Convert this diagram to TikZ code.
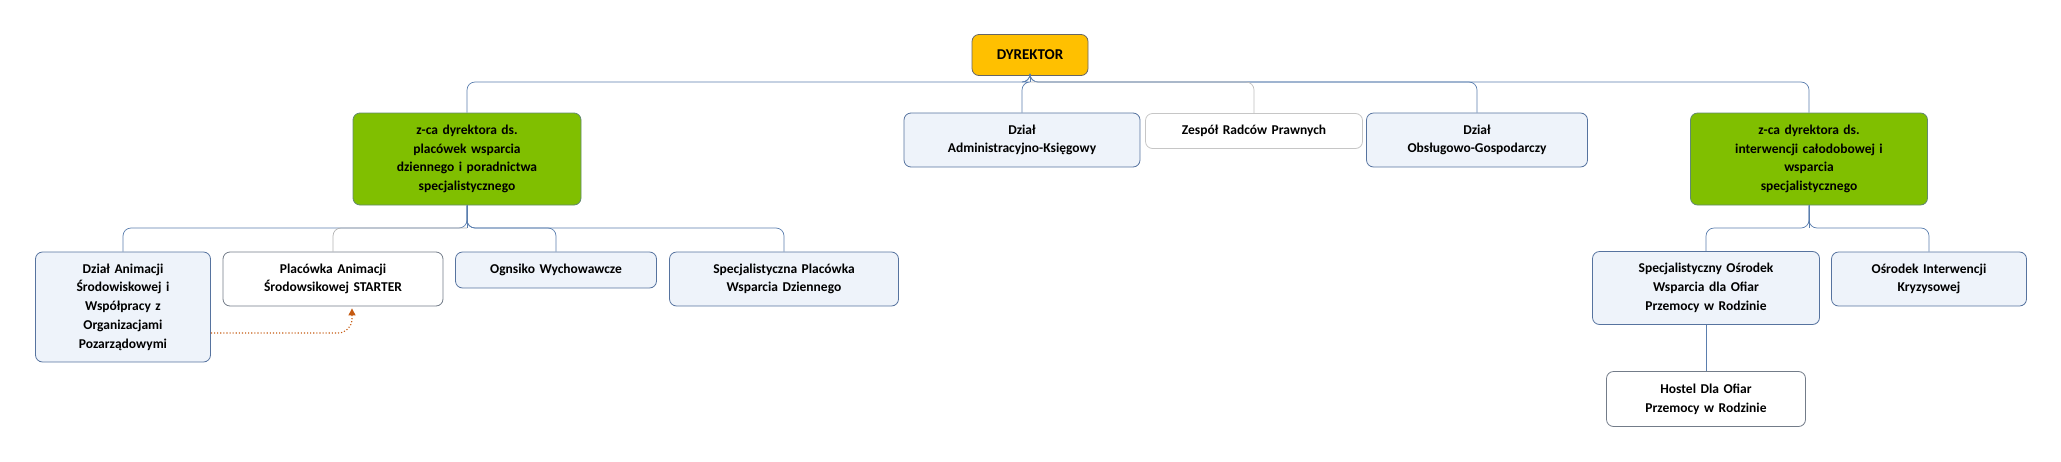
\documentclass[tikz,border=0pt]{standalone}
\usepackage{fontspec}
\setmainfont{Carlito}
\usetikzlibrary{arrows.meta,calc}
\definecolor{bfill}{HTML}{EEF3FA}
\definecolor{bdraw}{HTML}{56739F}
\definecolor{gfill}{HTML}{80BF00}
\definecolor{ofill}{HTML}{FFC000}
\definecolor{conn}{HTML}{5A7EAE}
\definecolor{arr}{HTML}{C55A11}
\tikzset{
 box/.style={draw=bdraw, fill=bfill, rounded corners=7pt, line width=0.8pt, align=center, inner sep=2pt, font=\bfseries\fontsize{13.5}{18.7}\selectfont},
 wbox/.style={box, fill=white, draw=gray!70!bdraw},
 gbox/.style={box, fill=gfill, draw=bdraw!70!gfill},
 obox/.style={box, fill=ofill, draw=black!60, font=\bfseries\fontsize{15}{18}\selectfont},
 cn/.style={draw=conn, line width=0.7pt, rounded corners=8pt},
}
\begin{document}
\begin{tikzpicture}[x=1pt,y=1pt]
\useasboundingbox (0,0) rectangle (2061,-461);
\node[obox, minimum width=116, minimum height=41] (dyr) at (1030,-55) {DYREKTOR};
\node[gbox, minimum width=228, minimum height=92, text width=210] (z1) at (467,-159) {z-ca dyrektora ds.\\placówek wsparcia\\dziennego i poradnictwa\\specjalistycznego};
\node[box, minimum width=236, minimum height=54, text width=220] (adm) at (1022,-140) {Dział\\Administracyjno-Księgowy};
\node[wbox, draw=gray!45, minimum width=217, minimum height=35, text width=200] (zrp) at (1254,-131) {Zespół Radców Prawnych};
\node[box, minimum width=221, minimum height=54, text width=205] (obs) at (1477,-140) {Dział\\Obsługowo-Gospodarczy};
\node[gbox, minimum width=237, minimum height=92, text width=220] (z2) at (1809,-159) {z-ca dyrektora ds.\\interwencji całodobowej i\\wsparcia\\specjalistycznego};
\node[box, minimum width=175, minimum height=110, text width=160] (anim) at (123,-307) {Dział Animacji\\Środowiskowej i\\Współpracy z\\Organizacjami\\Pozarządowymi};
\node[wbox, minimum width=220, minimum height=54, text width=205] (plac) at (333,-279) {Placówka Animacji\\Środowsikowej STARTER};
\node[box, minimum width=201, minimum height=36, text width=190] (ogn) at (556,-270) {Ognsiko Wychowawcze};
\node[box, minimum width=229, minimum height=54, text width=215] (spw) at (784,-279) {Specjalistyczna Placówka\\Wsparcia Dziennego};
\node[box, minimum width=227, minimum height=73, text width=210] (sow) at (1706,-288) {Specjalistyczny Ośrodek\\Wsparcia dla Ofiar\\Przemocy w Rodzinie};
\node[box, minimum width=195, minimum height=54, text width=185] (oik) at (1929,-279) {Ośrodek Interwencji\\Kryzysowej};
\node[wbox, minimum width=199, minimum height=55, text width=185] (hos) at (1706,-399) {Hostel Dla Ofiar\\Przemocy w Rodzinie};
% top bus
\foreach \c in {z1,adm,obs,z2}{\draw[cn] (dyr.south) |- (1030,-82) -| (\c.north);}
\draw[cn, draw=gray!50] (1030,-82) -| (zrp.north);
\draw[cn] (dyr.south) -- (1030,-82);
% left bus
\foreach \c in {anim,ogn,spw}{\draw[cn] (z1.south) |- (467,-228) -| (\c.north);}
\draw[cn, draw=gray!60] (467,-228) -| (plac.north);
\draw[cn] (z1.south) -- (467,-228);
% right bus
\foreach \c in {sow,oik}{\draw[cn] (z2.south) |- (1809,-228) -| (\c.north);}
\draw[cn] (z2.south) -- (1809,-228);
\draw[draw=conn, line width=0.7pt] (sow.south) -- (hos.north);
% dotted arrow
\coordinate (a0) at ($(anim.east)+(0,-26)$);
\coordinate (a1) at ($(plac.south)+(19,-2)$);
\draw[arr, dotted, line width=1.1pt, -{Triangle[length=7pt,width=7pt]}, rounded corners=14pt] (a0) -| (a1);
\end{tikzpicture}
\end{document}
